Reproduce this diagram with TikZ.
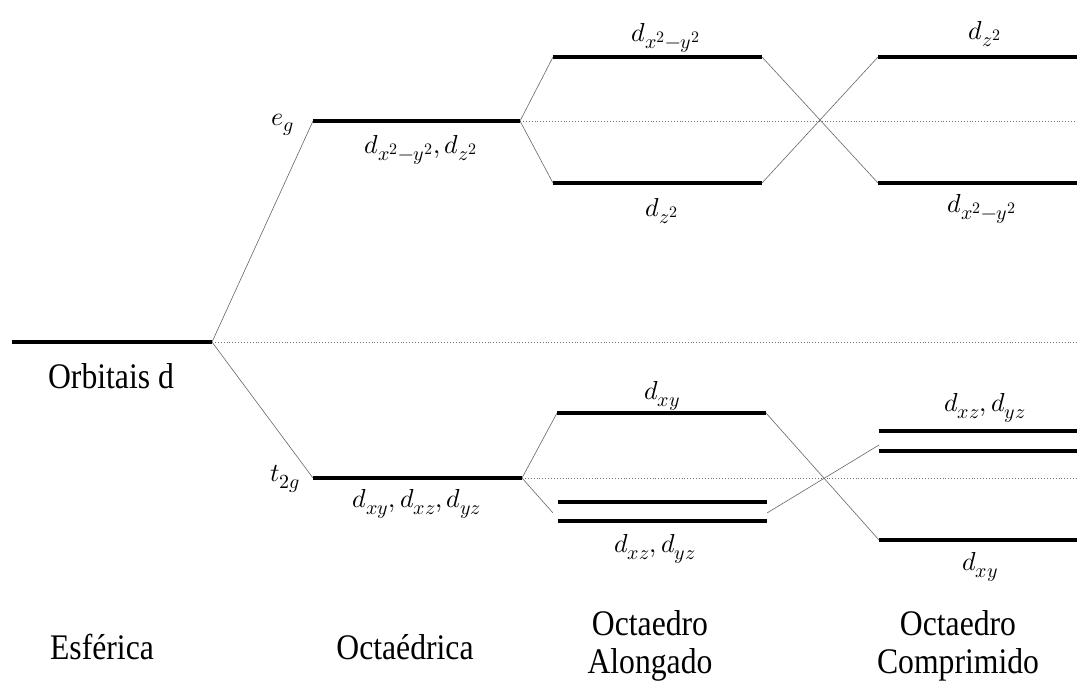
\documentclass[tikz,border=0pt]{standalone}
\usepackage{fontspec}
\usepackage{unicode-math}
\setmainfont{Liberation Serif}[FakeStretch=0.88]
\DeclareMathSizes{26}{26}{20}{16}
\tikzset{
  level/.style={line width=3.8pt, line cap=butt},
  conn/.style={line width=0.6pt, black!60},
  ref/.style={line width=0.9pt, black!55, dotted},
  lbl/.style={inner sep=0pt, font=\fontsize{36}{38}\selectfont, align=center},
  mlbl/.style={inner sep=0pt, font=\fontsize{26}{30}\selectfont}
}
\begin{document}
\begin{tikzpicture}[x=1pt,y=-1pt]
\useasboundingbox (0,0) rectangle (1077,682);
% coordinates
\coordinate (s1) at (12,342); \coordinate (s2) at (212,342);
\coordinate (e1) at (313,121); \coordinate (e2) at (520,121);
\coordinate (t1) at (313,478); \coordinate (t2) at (522,478);
\coordinate (a1) at (553,57);  \coordinate (a2) at (762,57);
\coordinate (a3) at (553,183); \coordinate (a4) at (762,183);
\coordinate (c1) at (878,57);  \coordinate (c2) at (1077,57);
\coordinate (c3) at (878,183); \coordinate (c4) at (1077,183);
\coordinate (b1) at (557,413); \coordinate (b2) at (766,413);
\coordinate (b3) at (558,502); \coordinate (b4) at (767,502);
\coordinate (b5) at (558,521); \coordinate (b6) at (767,521);
\coordinate (bl) at (553,513); \coordinate (br) at (767,513);
\coordinate (d1) at (879,431); \coordinate (d2) at (1077,431);
\coordinate (d3) at (879,451); \coordinate (d4) at (1077,451);
\coordinate (dc) at (879,445);
\coordinate (d5) at (879,540); \coordinate (d6) at (1077,540);
\coordinate (rs) at (1077,342); \coordinate (re) at (1077,121); \coordinate (rt) at (1077,478);
% reference dotted lines
\draw[ref] (s2) -- (rs);
\draw[ref] (e2) -- (re);
\draw[ref] (t2) -- (rt);
% connectors
\draw[conn] (s2) -- (e1);
\draw[conn] (s2) -- (t1);
\draw[conn] (e2) -- (a1);
\draw[conn] (e2) -- (a3);
\draw[conn] (a2) -- (c3);
\draw[conn] (a4) -- (c1);
\draw[conn] (t2) -- (b1);
\draw[conn] (t2) -- (bl);
\draw[conn] (b2) -- (d5);
\draw[conn] (br) -- (dc);
% levels
\draw[level] (s1) -- (s2);
\draw[level] (e1) -- (e2);
\draw[level] (t1) -- (t2);
\draw[level] (a1) -- (a2);
\draw[level] (a3) -- (a4);
\draw[level] (c1) -- (c2);
\draw[level] (c3) -- (c4);
\draw[level] (b1) -- (b2);
\draw[level] (b3) -- (b4);
\draw[level] (b5) -- (b6);
\draw[level] (d1) -- (d2);
\draw[level] (d3) -- (d4);
\draw[level] (d5) -- (d6);
% labels
\node[lbl] (lorb) at (111,376) {Orbitais d};
\node[mlbl] (leg) at (283,125) {$e_g$};
\node[mlbl] (lt2g) at (285,479) {$t_{2g}$};
\node[mlbl] (loct1) at (421,150) {$d_{x^2-y^2}, d_{z^2}$};
\node[mlbl] (loct2) at (417,504) {$d_{xy}, d_{xz}, d_{yz}$};
\node[mlbl] (la1) at (666,38) {$d_{x^2-y^2}$};
\node[mlbl] (la2) at (662,211) {$d_{z^2}$};
\node[mlbl] (lc1) at (985,34) {$d_{z^2}$};
\node[mlbl] (lc2) at (982,209) {$d_{x^2-y^2}$};
\node[mlbl] (la3) at (662,396) {$d_{xy}$};
\node[mlbl] (la4) at (655,549) {$d_{xz}, d_{yz}$};
\node[mlbl] (lc3) at (985,408) {$d_{xz}, d_{yz}$};
\node[mlbl] (lc4) at (980,567) {$d_{xy}$};
\node[lbl] (lesf) at (102,647) {Esférica};
\node[lbl] (loct) at (405,647) {Octaédrica};
\node[lbl] (lalo) at (650,646) {Octaedro\\Alongado};
\node[lbl] (lcom) at (958,646) {Octaedro\\Comprimido};
\end{tikzpicture}
\end{document}
